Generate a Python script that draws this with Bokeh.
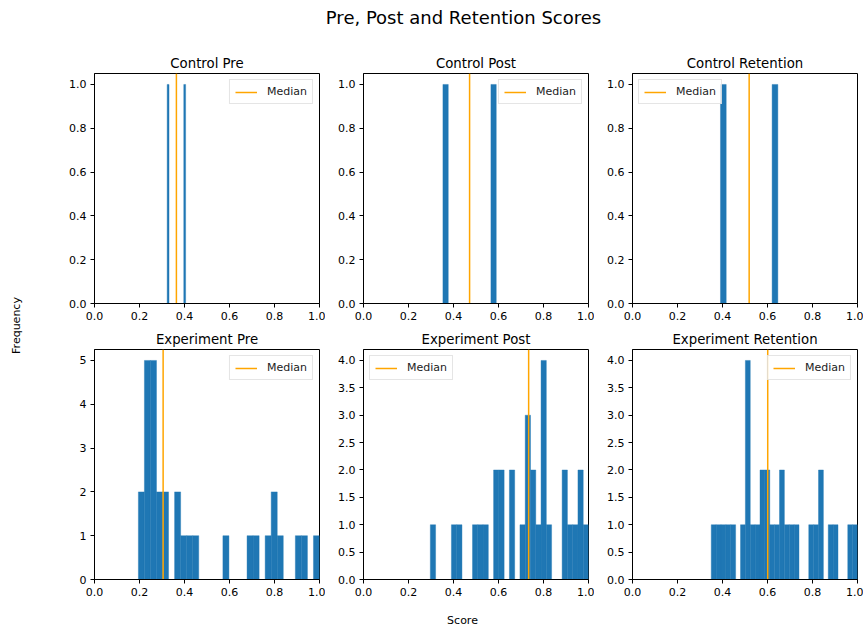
import numpy as np
from bokeh.plotting import figure
from bokeh.layouts import column, row
from bokeh.models import Range1d, FixedTicker, PrintfTickFormatter, Label, Legend
from bokeh.embed import file_html
from bokeh.resources import INLINE

FONT = "DejaVu Sans"
BAR_COLOR = "#1f77b4"
MEDIAN_COLOR = "orange"

score_ticks = [0.0, 0.2, 0.4, 0.6, 0.8, 1.0]

# Control group: raw scores (two students), histogrammed into 10 bins
control_pre = [0.323, 0.405]
control_post = [0.353, 0.590]
control_retention = [0.391, 0.646]

# Experiment group: counts in 30 equal bins spanning (lowest, highest) score
exp_pre_range = (0.195, 1.0)
exp_pre_counts = [2, 5, 5, 2, 2, 0, 2, 1, 1, 1, 0, 0, 0, 0, 1,
                  0, 0, 0, 1, 1, 0, 1, 2, 1, 0, 0, 1, 1, 0, 1]
exp_pre_median = 0.305

exp_post_range = (0.297, 1.0)
exp_post_counts = [1, 0, 0, 0, 1, 1, 0, 0, 1, 1, 1, 0, 2, 2, 0,
                   2, 0, 1, 3, 2, 1, 4, 1, 0, 0, 2, 1, 1, 2, 1]
exp_post_median = 0.734

exp_ret_range = (0.350, 1.0)
exp_ret_counts = [1, 1, 1, 1, 1, 0, 1, 4, 1, 1, 2, 2, 1, 1, 2,
                  1, 1, 1, 0, 0, 1, 1, 2, 0, 1, 1, 0, 0, 1, 1]
exp_ret_median = 0.601

# layout sizes (pixels)
FRAME_W, FRAME_H = 225, 230
B_LEFT, B_RIGHT, B_TOP, B_BOTTOM = 38, 6, 24, 22
PANEL_W = B_LEFT + FRAME_W + B_RIGHT
PANEL_H = B_TOP + FRAME_H + B_BOTTOM
SIDE_W = 56
HEAD_H = 49
TOTAL_W = SIDE_W + 3 * PANEL_W
FOOT_H = 631 - HEAD_H - 2 * PANEL_H


def text_figure(w, h):
    f = figure(width=w, height=h, x_range=Range1d(0, w), y_range=Range1d(0, h),
               min_border=0, toolbar_location=None, output_backend="svg",
               x_axis_location=None, y_axis_location=None,
               outline_line_color=None)
    f.grid.visible = False
    return f


def panel(title, edges, counts, median, yticks, yfmt, legend_loc):
    edges = np.asarray(edges, dtype=float)
    counts = np.asarray(counts, dtype=float)
    ymax = counts.max() * 1.05
    p = figure(width=PANEL_W, height=PANEL_H, title=title,
               x_range=Range1d(0, 1), y_range=Range1d(0, ymax),
               min_border_left=B_LEFT, min_border_right=B_RIGHT,
               min_border_top=B_TOP, min_border_bottom=B_BOTTOM,
               toolbar_location=None, output_backend="svg")
    p.grid.visible = False
    p.outline_line_color = "black"
    p.outline_line_width = 1
    p.title.text_font = FONT
    p.title.text_font_size = "13.3px"
    p.title.text_font_style = "normal"
    p.title.text_color = "black"
    p.title.align = "center"
    p.title.standoff = 6

    keep = counts > 0
    p.quad(left=edges[:-1][keep], right=edges[1:][keep], bottom=0, top=counts[keep],
           fill_color=BAR_COLOR, line_color=BAR_COLOR, line_width=0.4)

    med = p.segment(x0=[median], y0=[0], x1=[median], y1=[ymax],
                    line_color=MEDIAN_COLOR, line_width=1.5)
    legend = Legend(items=[("Median", [med])], location=legend_loc)
    legend.label_text_font = FONT
    legend.label_text_font_size = "11px"
    legend.label_text_color = "#222222"
    legend.border_line_color = "#cccccc"
    legend.border_line_width = 1
    legend.background_fill_alpha = 0.8
    legend.margin = 6
    legend.padding = 5
    legend.spacing = 0
    legend.glyph_width = 22
    legend.glyph_height = 12
    legend.label_height = 12
    legend.label_standoff = 10
    p.add_layout(legend)

    p.xaxis.ticker = FixedTicker(ticks=score_ticks)
    p.xaxis.formatter = PrintfTickFormatter(format="%.1f")
    p.yaxis.ticker = FixedTicker(ticks=yticks)
    p.yaxis.formatter = PrintfTickFormatter(format=yfmt)
    for ax in (p.xaxis, p.yaxis):
        ax.axis_line_color = "black"
        ax.major_tick_line_color = "black"
        ax.major_tick_out = 4
        ax.major_tick_in = 0
        ax.minor_tick_line_color = None
        ax.major_label_text_font = FONT
        ax.major_label_text_font_size = "11px"
        ax.major_label_text_color = "black"
        ax.major_label_standoff = 4
    return p


def control_panel(title, scores, legend_loc):
    counts, edges = np.histogram(scores, bins=10)
    return panel(title, edges, counts, float(np.median(scores)),
                 [0.0, 0.2, 0.4, 0.6, 0.8, 1.0], "%.1f", legend_loc)


def experiment_panel(title, rng, counts, median, yticks, yfmt, legend_loc):
    edges = np.linspace(rng[0], rng[1], len(counts) + 1)
    return panel(title, edges, counts, median, yticks, yfmt, legend_loc)


half_ticks = [0.0, 0.5, 1.0, 1.5, 2.0, 2.5, 3.0, 3.5, 4.0]

panels_top = [
    control_panel("Control Pre", control_pre, "top_right"),
    control_panel("Control Post", control_post, "top_right"),
    control_panel("Control Retention", control_retention, "top_left"),
]
panels_bottom = [
    experiment_panel("Experiment Pre", exp_pre_range, exp_pre_counts, exp_pre_median,
                     [0, 1, 2, 3, 4, 5], "%d", "top_right"),
    experiment_panel("Experiment Post", exp_post_range, exp_post_counts, exp_post_median,
                     half_ticks, "%.1f", "top_left"),
    experiment_panel("Experiment Retention", exp_ret_range, exp_ret_counts, exp_ret_median,
                     half_ticks, "%.1f", "top_right"),
]

head = text_figure(TOTAL_W, HEAD_H)
head.add_layout(Label(x=463, y=HEAD_H - 17, text="Pre, Post and Retention Scores",
                      text_font=FONT, text_font_size="18px", text_color="black",
                      text_align="center", text_baseline="alphabetic"))

side = text_figure(SIDE_W, 2 * PANEL_H)
side.add_layout(Label(x=15.5, y=PANEL_H, text="Frequency", angle=np.pi / 2,
                      text_font=FONT, text_font_size="11px", text_color="black",
                      text_align="center", text_baseline="alphabetic"))

foot = text_figure(TOTAL_W, FOOT_H)
foot.add_layout(Label(x=462, y=11, text="Score",
                      text_font=FONT, text_font_size="11px", text_color="black",
                      text_align="center", text_baseline="alphabetic"))

layout = column(
    head,
    row(side, column(row(*panels_top), row(*panels_bottom))),
    foot,
)

open("out.html", "w").write(file_html(layout, INLINE))
